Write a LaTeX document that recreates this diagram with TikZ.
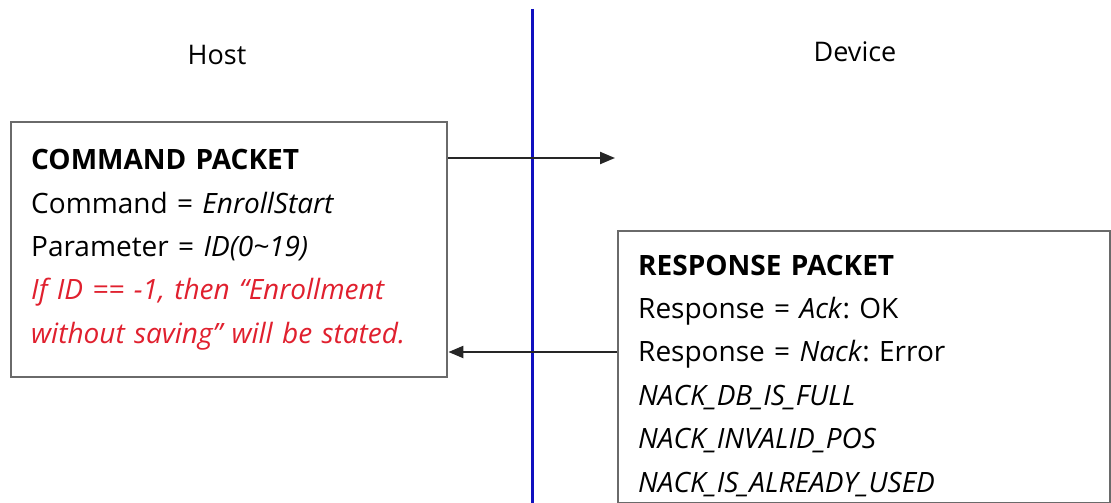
\documentclass[tikz,border=0pt]{standalone}
\usepackage{fontspec}
\setmainfont{Open Sans}
\frenchspacing
\usetikzlibrary{arrows.meta}

\definecolor{boxgray}{HTML}{6A6A6A}
\definecolor{notered}{HTML}{E0202E}
\definecolor{lifeblue}{HTML}{1010C0}

\tikzset{
    packet/.style={draw=boxgray, line width=2.4pt, anchor=north west, align=left,
        inner xsep=20pt, inner ysep=0pt, font=\fontsize{28}{43.4}\selectfont},
    msg/.style={draw=black!85, line width=2.2pt, -{Triangle[length=15pt,width=12pt]}},
    side/.style={font=\fontsize{27}{32}\selectfont}
}

\begin{document}
\begin{tikzpicture}[x=1pt,y=-1pt]
    \useasboundingbox (0,0) rectangle (1111,503);

    \coordinate (top) at (532,9);
    \coordinate (bottom) at (532,503);
    \draw[lifeblue, line width=3pt] (top) -- (bottom);

    \node[side] (host) at (217,55) {Host};
    \node[side] (device) at (855,52) {Device};

    \node[packet, minimum width=436pt, minimum height=255pt, text width=396pt] (cmd) at (10,121) {%
        \textbf{COMMAND PACKET}\\
        Command = \textit{EnrollStart}\\
        Parameter = \textit{ID(0\textasciitilde19)}\\
        \color{notered}\textit{If ID == -1, then “Enrollment}\\
        \color{notered}\textit{without saving” will be stated.}};

    \node[packet, minimum width=492pt, minimum height=272pt, text width=452pt] (resp) at (617,230) {%
        \rule{0pt}{37pt}\textbf{RESPONSE PACKET}\\
        Response = \textit{Ack}: OK\\
        Response = \textit{Nack}: Error\\
        \textit{NACK\_DB\_IS\_FULL}\\
        \textit{NACK\_INVALID\_POS}\\
        \textit{NACK\_IS\_ALREADY\_USED}};

    \coordinate (sendtip) at (615,158);
    \draw[msg] (cmd.east |- sendtip) -- (sendtip);
    \draw[msg] (resp.west |- 0,352) -- (cmd.east |- 0,352);
\end{tikzpicture}
\end{document}
